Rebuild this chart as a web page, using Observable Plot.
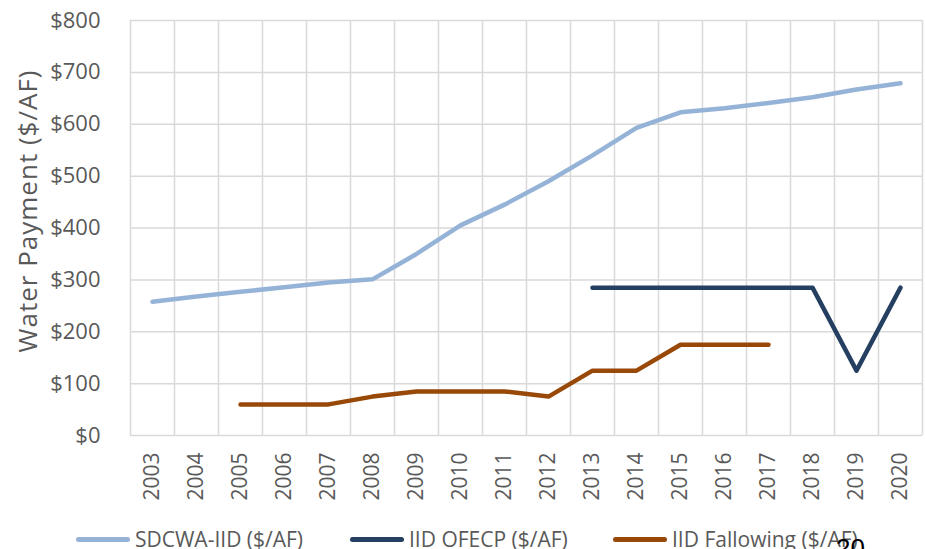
<!DOCTYPE html>
<html>
<head>
<meta charset="utf-8">
<script src="https://cdn.jsdelivr.net/npm/d3@7"></script>
<script src="https://cdn.jsdelivr.net/npm/@observablehq/plot@0.6"></script>
<style>
  html, body { margin: 0; padding: 0; background: #fff; }
  #wrap { position: relative; width: 925px; height: 549px; overflow: hidden; font-family: "Open Sans", sans-serif; }
  .leg { position: absolute; top: 525px; display: flex; align-items: center; font-size: 21px; color: #595959; white-space: nowrap; }
  .sw { width: 54px; height: 5px; border-radius: 3px; margin-right: 5px; }
  #pg { position: absolute; left: 836px; top: 533px; font-size: 26px; color: #000; font-family: "Liberation Sans", sans-serif; }
</style>
</head>
<body>
<div id="wrap"></div>
<script>
const years = [2003, 2004, 2005, 2006, 2007, 2008, 2009, 2010, 2011, 2012, 2013, 2014, 2015, 2016, 2017, 2018, 2019, 2020];
const sdcwa = [258, 268, 277, 286, 295, 301, 350, 405, 445, 490, 540, 593, 623, 631, 641, 652, 667, 679];
const ofecp = [null, null, null, null, null, null, null, null, null, null, 285, 285, 285, 285, 285, 285, 125, 285];
const fallowing = [null, null, 60, 60, 60, 75, 85, 85, 85, 75, 125, 125, 175, 175, 175, null, null, null];
const seriesNames = ["SDCWA-IID ($/AF)", "IID OFECP ($/AF)", "IID Fallowing ($/AF)"];
const seriesColors = ["#95B3D7", "#243F60", "#984807"];
const yTicks = [0, 100, 200, 300, 400, 500, 600, 700, 800];
const yTitle = "Water Payment ($/AF)";
const pageNumber = "20";

const seriesValues = [sdcwa, ofecp, fallowing];
const rows = [];
seriesNames.forEach((name, i) => {
  years.forEach((yr, j) => {
    const v = seriesValues[i][j];
    if (v != null) rows.push({series: name, year: yr, value: v});
  });
});
const bounds = years.map(y => y - 0.5).concat([years[years.length - 1] + 0.5]);

const chart = Plot.plot({
  width: 925,
  height: 515,
  marginLeft: 130,
  marginRight: 3,
  marginTop: 20,
  marginBottom: 80,
  style: {fontFamily: "Open Sans", fontSize: "20px", color: "#595959", background: "#fff"},
  x: {type: "linear", domain: [years[0] - 0.5, years[years.length - 1] + 0.5]},
  y: {domain: [0, 800]},
  color: {domain: seriesNames, range: seriesColors},
  marks: [
    Plot.gridY(yTicks, {stroke: "#d9d9d9", strokeOpacity: 1, strokeWidth: 1.5}),
    Plot.ruleX(bounds, {stroke: "#d9d9d9", strokeWidth: 1.5}),
    Plot.line(rows, {x: "year", y: "value", z: "series", stroke: "series", strokeWidth: 4.5, strokeLinecap: "round", strokeLinejoin: "round"}),
    Plot.axisY({ticks: yTicks, tickSize: 0, tickPadding: 30, fontSize: 22, tickFormat: d => "$" + d, label: null}),
    Plot.axisX({ticks: years, tickSize: 0, tickRotate: -90, tickPadding: 17, fontSize: 21, tickFormat: d => String(d), label: null}),
    Plot.text([yTitle], {frameAnchor: "left", textAnchor: "middle", rotate: -90, dx: -102, dy: -17, fontSize: 26, fill: "#595959", text: d => d})
  ]
});
const wrap = document.getElementById("wrap");
wrap.appendChild(chart);
chart.querySelectorAll("text").forEach(t => { if (t.textContent === yTitle) t.setAttribute("letter-spacing", "1px"); });

const legLefts = [76, 350, 613];
seriesNames.forEach((name, i) => {
  const it = document.createElement("div");
  it.className = "leg";
  it.style.left = legLefts[i] + "px";
  const sw = document.createElement("div");
  sw.className = "sw";
  sw.style.background = seriesColors[i];
  const tx = document.createElement("span");
  tx.textContent = name;
  it.appendChild(sw);
  it.appendChild(tx);
  wrap.appendChild(it);
});
const pg = document.createElement("div");
pg.id = "pg";
pg.textContent = pageNumber;
wrap.appendChild(pg);
</script>
</body>
</html>
